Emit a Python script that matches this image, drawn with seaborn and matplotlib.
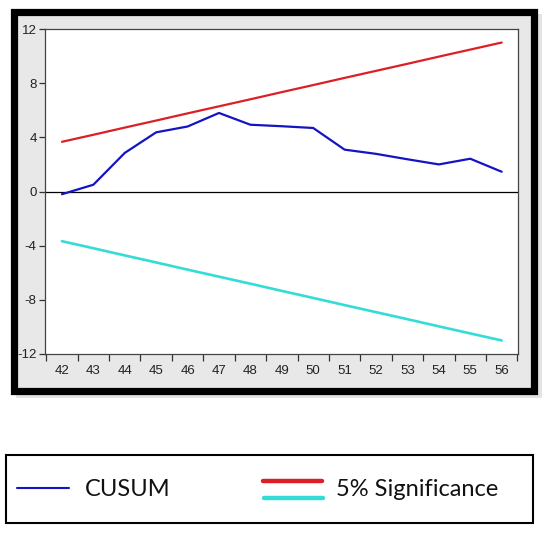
import matplotlib
matplotlib.use('Agg')
import matplotlib.pyplot as plt
import seaborn as sns
import pandas as pd
from matplotlib.patches import Rectangle
from matplotlib.lines import Line2D

# data
years = [42, 43, 44, 45, 46, 47, 48, 49, 50, 51, 52, 53, 54, 55, 56]
cusum = [-0.2, 0.5, 2.85, 4.37, 4.8, 5.8, 4.93, 4.82, 4.69, 3.09, 2.78, 2.38, 2.0, 2.42, 1.46]
upper = [3.67, 4.19, 4.72, 5.24, 5.77, 6.29, 6.81, 7.34, 7.86, 8.39, 8.91, 9.43, 9.96, 10.48, 11.0]
lower = [-3.67, -4.19, -4.72, -5.24, -5.77, -6.29, -6.81, -7.34, -7.86, -8.39, -8.91, -9.43, -9.96, -10.48, -11.0]
y_ticks = [-12, -8, -4, 0, 4, 8, 12]

df = pd.DataFrame({'year': years, 'CUSUM': cusum, 'upper': upper, 'lower': lower})

sns.set_style('white')
plt.rcParams['font.family'] = ['Liberation Sans', 'DejaVu Sans']

W, H = 550, 534
fig = plt.figure(figsize=(W / 100, H / 100), dpi=100)
fig.patch.set_facecolor('white')


def fx(px):
    return px / W


def fy(py):
    return 1 - py / H


# shadow + black frame with grey panel
fig.add_artist(Rectangle((fx(16), fy(398)), fx(526), fy(14) - fy(398), transform=fig.transFigure,
                         facecolor='#c8c8c8', edgecolor='none', alpha=0.5, zorder=0))
fig.add_artist(Rectangle((fx(13.5), fy(391)), fx(520), fy(11.5) - fy(391), transform=fig.transFigure,
                         facecolor='#e8e8e8', edgecolor='black', linewidth=5.2, zorder=1))

ax = fig.add_axes([fx(45), fy(354), fx(518) - fx(45), fy(29) - fy(354)])
ax.set_zorder(2)
ax.set_facecolor('white')

sns.lineplot(data=df, x='year', y='upper', color='#dc1f26', linewidth=1.6, ax=ax)
sns.lineplot(data=df, x='year', y='lower', color='#35dcd6', linewidth=1.9, ax=ax)
sns.lineplot(data=df, x='year', y='CUSUM', color='#1414c4', linewidth=1.6, ax=ax)
ax.axhline(0, color='black', linewidth=0.9, zorder=0.5)

ax.set_xlim(41.46, 56.52)
ax.set_ylim(-12, 12)
ax.set_xlabel('')
ax.set_ylabel('')
ax.set_yticks(y_ticks)
ax.set_yticklabels([str(t) for t in y_ticks])
ax.set_xticks(years)
ax.set_xticklabels([str(y) for y in years])
ax.set_xticks([y + 0.5 for y in [41] + years], minor=True)
ax.tick_params(axis='x', which='major', length=0, pad=8, labelsize=9.5, labelcolor='#222222')
ax.tick_params(axis='x', which='minor', length=5, width=0.9, direction='out', color='#333333', bottom=True)
ax.tick_params(axis='y', which='major', length=4, width=0.9, direction='out', color='#333333',
               left=True, pad=2, labelsize=9.5, labelcolor='#222222')
for s in ax.spines.values():
    s.set_color('#444444')
    s.set_linewidth(0.9)

# legend box below the chart
fig.add_artist(Rectangle((fx(6), fy(523)), fx(527), fy(455) - fy(523), transform=fig.transFigure,
                         facecolor='white', edgecolor='black', linewidth=1.5, zorder=1))
fig.add_artist(Line2D([fx(17), fx(69)], [fy(488), fy(488)], transform=fig.transFigure,
                      color='#1414c4', linewidth=1.5, zorder=2))
fig.add_artist(Line2D([fx(263), fx(322)], [fy(481), fy(481)], transform=fig.transFigure,
                      color='#dc1f26', linewidth=3.2, zorder=2))
fig.add_artist(Line2D([fx(264), fx(323)], [fy(498), fy(498)], transform=fig.transFigure,
                      color='#35dcd6', linewidth=3.2, zorder=2))
leg_font = ['Lato', 'DejaVu Sans']
fig.text(fx(85), fy(489), 'CUSUM', fontsize=17, family=leg_font, va='center', ha='left', color='#111111')
fig.text(fx(336), fy(489), '5% Significance', fontsize=17, family=leg_font, va='center', ha='left',
         color='#111111')

fig.savefig('out.png', dpi=100)
